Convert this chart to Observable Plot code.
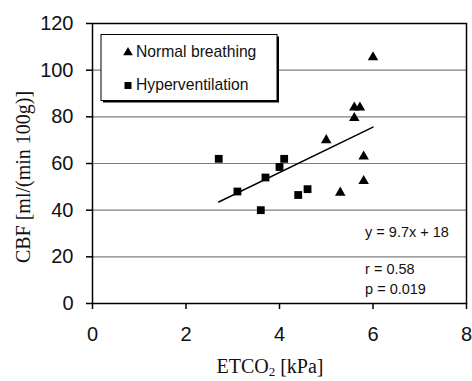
<!DOCTYPE html>
<html>
<head>
<meta charset="utf-8">
<script src="https://cdn.jsdelivr.net/npm/d3@7"></script>
<script src="https://cdn.jsdelivr.net/npm/@observablehq/plot@0.6"></script>
<style>
  html, body { margin: 0; padding: 0; background: #fff; }
  #chart { width: 472px; height: 381px; }
</style>
</head>
<body>
<div id="chart"></div>
<script>
// Normal breathing (triangles)
const normalX = [6.0, 5.6, 5.72, 5.6, 5.0, 5.8, 5.8, 5.3];
const normalY = [105.5, 84, 84, 79.5, 70, 63, 52.5, 47.5];
// Hyperventilation (squares)
const hyperX = [2.7, 3.1, 3.6, 3.7, 4.0, 4.1, 4.4, 4.6];
const hyperY = [62, 48, 40, 54, 58.5, 62, 46.5, 49];
// Regression line endpoints (y = 9.7x + 18)
const fitX = [2.7, 6.0];
const fitY = [43.5, 75.6];
// Tick labels
const xTicks = [0, 2, 4, 6, 8];
const yTicks = [0, 20, 40, 60, 80, 100, 120];
const gridY = [20, 40, 60, 80, 100];
// Annotations
const annText = ["y = 9.7x + 18", "r = 0.58", "p = 0.019"];
const annX = [5.83, 5.83, 5.83];
const annY = [30.3, 14.8, 6.2];
const legendLabels = ["Normal breathing", "Hyperventilation"];

const normal = normalX.map((x, i) => ({x, y: normalY[i]}));
const hyper = hyperX.map((x, i) => ({x, y: hyperY[i]}));
const fit = fitX.map((x, i) => ({x, y: fitY[i]}));
const ann = annText.map((t, i) => ({t, x: annX[i], y: annY[i]}));

const sans = "'Liberation Sans', Arial, sans-serif";
const serif = "'Liberation Serif', 'Times New Roman', serif";

const chart = Plot.plot({
  width: 472,
  height: 381,
  marginLeft: 92,
  marginRight: 6,
  marginTop: 23,
  marginBottom: 78,
  style: {fontFamily: sans, background: "#fff"},
  x: {domain: [0, 8]},
  y: {domain: [0, 120]},
  marks: [
    Plot.ruleY(gridY, {stroke: "#7f7f7f", strokeWidth: 1.2}),
    Plot.axisX({ticks: xTicks, tickSize: 6, tickPadding: 17, fontSize: 20, stroke: "#000", strokeWidth: 1.5, label: null, fill: "#111"}),
    Plot.axisY({ticks: yTicks, tickSize: 6, tickPadding: 13, fontSize: 20, stroke: "#000", strokeWidth: 1.5, label: null, fill: "#111"}),
    Plot.frame({stroke: "#000", strokeWidth: 1.5}),
    Plot.line(fit, {x: "x", y: "y", stroke: "#000", strokeWidth: 1.5}),
    Plot.dot(hyper, {x: "x", y: "y", symbol: "square", r: 4.4, fill: "#000", stroke: "none"}),
    Plot.dot(normal, {x: "x", y: "y", symbol: "triangle", r: 3.9, fill: "#000", stroke: "none"}),
    Plot.text(ann, {x: "x", y: "y", text: "t", textAnchor: "start", fontSize: 14.5, fill: "#111"})
  ]
});

const svg = d3.select(chart);

// Legend box with shadow
const lg = svg.append("g").attr("text-anchor", "start");
lg.append("rect").attr("x", 103).attr("y", 36.5).attr("width", 176).attr("height", 66).attr("fill", "#000");
lg.append("rect").attr("x", 101).attr("y", 34.5).attr("width", 176).attr("height", 66).attr("fill", "#fff").attr("stroke", "#000").attr("stroke-width", 1);
lg.append("path").attr("d", d3.symbol(d3.symbolTriangle, 40)()).attr("transform", "translate(128,52.5)").attr("fill", "#000");
lg.append("rect").attr("x", 124.5).attr("y", 82).attr("width", 7).attr("height", 7).attr("fill", "#000");
lg.append("text").attr("x", 136).attr("y", 52).attr("dy", "0.35em").attr("font-size", 15.7).attr("font-family", sans).attr("fill", "#111").text(legendLabels[0]);
lg.append("text").attr("x", 136).attr("y", 85).attr("dy", "0.35em").attr("font-size", 15.7).attr("font-family", sans).attr("fill", "#111").text(legendLabels[1]);

// Axis titles
svg.append("text")
  .attr("transform", "translate(30,177) rotate(-90)")
  .attr("text-anchor", "middle")
  .attr("font-family", serif).attr("font-size", 20).attr("fill", "#111")
  .text("CBF [ml/(min 100g)]");

const xt = svg.append("text")
  .attr("x", 270).attr("y", 373)
  .attr("text-anchor", "middle")
  .attr("font-family", serif).attr("font-size", 20).attr("fill", "#111");
xt.append("tspan").text("ETCO");
xt.append("tspan").attr("font-size", 13).attr("dy", 3).text("2");
xt.append("tspan").attr("dy", -3).text(" [kPa]");

document.getElementById("chart").appendChild(chart);
</script>
</body>
</html>
